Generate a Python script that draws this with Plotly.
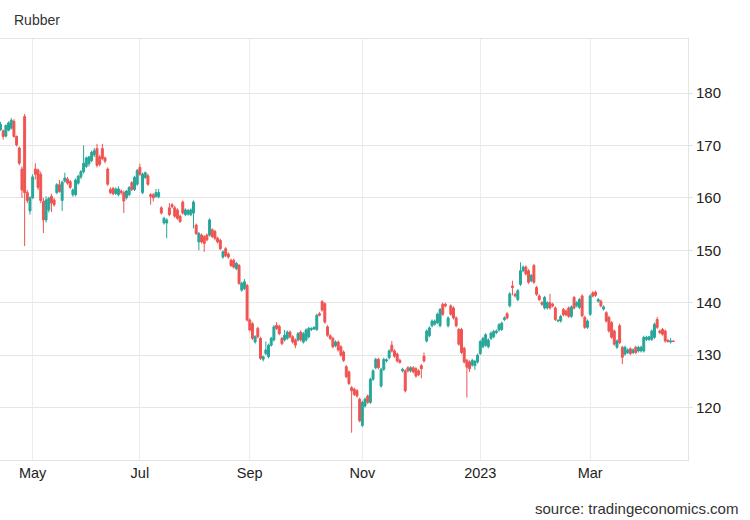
import pandas as pd
import plotly.graph_objects as go

# trading days (weekdays minus the days the series has no print)
closed_days = ["2022-04-15", "2022-05-02", "2022-05-03", "2022-05-16", "2022-06-02",
               "2022-07-11", "2022-08-09", "2022-08-29", "2022-10-24", "2023-01-23",
               "2023-04-07"]
dates = [d.strftime("%Y-%m-%d") for d in pd.bdate_range("2022-04-13", "2023-04-14")
         if d.strftime("%Y-%m-%d") not in closed_days]

month_ticks = ["2022-05-04", "2022-07-01", "2022-09-01", "2022-11-01", "2023-01-02", "2023-03-01"]
month_labels = ["May", "Jul", "Sep", "Nov", "2023", "Mar"]
price_ticks = [120, 130, 140, 150, 160, 170, 180]

open_ = [
    # Apr
    173.0, 172.8, 171.8, 172.9, 173.3, 174.6, 171.7, 169.5, 165.5, 175.5, 161.0, 157.5,
    # May - Jun
    160.0, 165.5, 165.3, 164.5, 159.3, 155.8, 157.7, 160.3, 159.6, 161.0,
    162.5, 159.5, 163.2, 163.6, 163.1, 160.6, 160.6, 162.8, 164.0, 165.0,
    166.0, 166.5, 167.1, 168.2, 169.4, 167.8, 169.4, 167.6, 165.5, 161.6,
    161.8, 160.8, 160.6, 161.3, 161.0, 160.0, 160.6, 162.9, 161.6, 162.6,
    # Jul - Aug
    165.8, 161.0, 163.9, 164.2, 160.6, 160.6, 160.3, 160.2, 158.1, 155.2,
    155.2, 158.1, 158.7, 158.1, 157.7, 156.5, 159.2, 156.8, 156.9, 156.8,
    157.1, 154.8, 151.6, 152.9, 152.6, 152.9, 152.9, 153.9, 153.6, 152.3,
    151.9, 148.7, 150.3, 149.3, 148.1, 148.1, 146.5, 147.1, 142.4, 142.7, 143.3,
    # Sep - Oct
    136.7, 136.0, 132.5, 135.1, 133.2, 129.2, 130.3, 129.7, 131.9, 132.9,
    135.7, 135.5, 133.2, 132.9, 133.2, 134.4, 133.5, 132.9, 132.9, 134.4,
    132.5, 132.9, 133.5, 134.9, 135.0, 134.9, 137.9, 140.2, 139.8, 135.4,
    133.7, 133.2, 131.8, 132.5, 131.6, 130.6, 127.8, 126.8, 123.8, 123.5,
    123.2, 121.6,
    # Nov - Dec
    116.6, 120.3, 122.2, 121.0, 125.4, 127.6, 129.2, 124.1, 127.3, 128.9,
    129.5, 131.9, 130.8, 130.2, 129.0, 127.0, 127.0, 127.6, 127.0, 127.6,
    127.4, 127.0, 128.0, 129.8, 132.7, 133.7, 135.6, 135.9, 136.2, 135.6,
    139.7, 139.7, 135.6, 139.4, 139.0, 137.1, 134.9, 134.9, 131.3, 129.0,
    128.7, 128.1, 128.0, 128.7,
    # Jan - Feb
    130.3, 131.6, 131.9, 131.6, 133.2, 133.5, 134.3, 134.8, 134.9, 136.8,
    137.9, 139.4, 143.2, 141.6, 140.6, 143.5, 146.1, 146.8, 146.1, 144.2,
    147.1, 142.9, 141.3, 140.0, 139.0, 139.0, 140.0, 139.7, 139.0, 136.5,
    136.5, 138.7, 138.4, 139.0, 137.4, 141.0, 139.4, 139.1, 141.3, 137.2,
    135.3,
    # Mar - Apr
    137.8, 141.9, 142.0, 140.3, 140.3, 138.8, 138.1, 137.2, 136.2, 134.6,
    131.5, 135.6, 131.5, 130.2, 130.5, 131.2, 130.5, 131.5, 130.8, 130.8,
    130.8, 133.0, 133.0, 133.0, 133.4, 136.8, 134.6, 134.9, 134.6, 132.8,
    132.5, 132.7,
]

high = [
    174.5, 173.0, 174.0, 174.6, 175.2, 175.0, 171.9, 169.8, 166.0, 176.0, 161.5, 160.3,
    164.5, 166.6, 165.6, 165.0, 160.0, 160.3, 160.2, 160.8, 160.0, 162.8,
    163.4, 163.3, 164.8, 164.0, 163.4, 161.8, 163.7, 164.4, 165.3, 170.0,
    167.9, 168.0, 169.0, 169.5, 170.3, 168.2, 170.3, 167.9, 165.8, 162.0,
    162.1, 162.0, 162.2, 161.6, 161.4, 161.5, 162.2, 163.2, 164.2, 165.5,
    166.5, 164.8, 165.0, 164.6, 160.9, 160.9, 161.7, 161.7, 158.4, 156.4,
    156.1, 159.0, 159.0, 158.5, 158.0, 156.8, 159.5, 158.0, 157.9, 158.0,
    159.5, 155.1, 153.5, 153.2, 152.9, 153.2, 156.1, 154.2, 153.9, 152.6,
    152.2, 150.0, 150.6, 149.6, 148.4, 148.4, 147.8, 147.4, 144.0, 144.5, 143.6,
    137.0, 136.3, 133.8, 135.4, 133.5, 129.9, 132.6, 132.2, 133.5, 135.7,
    136.3, 135.8, 133.5, 134.8, 134.7, 134.7, 133.8, 133.2, 134.4, 134.7,
    134.4, 135.1, 135.4, 135.3, 135.5, 137.9, 138.2, 140.5, 140.1, 135.7,
    134.0, 133.5, 132.8, 132.8, 131.9, 130.9, 128.1, 127.1, 124.1, 123.8,
    123.5, 121.9,
    121.3, 121.9, 122.5, 125.7, 127.3, 129.5, 129.5, 127.6, 129.5, 129.4,
    131.1, 132.7, 131.1, 130.5, 129.3, 127.6, 127.3, 127.9, 127.9, 127.9,
    127.7, 127.3, 128.3, 130.5, 134.9, 135.5, 136.8, 136.8, 138.1, 139.0,
    140.0, 140.0, 137.4, 139.7, 139.3, 137.4, 135.2, 135.2, 131.6, 129.3,
    129.0, 129.3, 129.1, 130.3,
    132.9, 133.5, 134.2, 133.2, 134.5, 134.8, 134.9, 136.1, 136.4, 137.4,
    138.2, 142.0, 144.2, 141.9, 142.6, 147.7, 147.1, 147.1, 146.4, 145.5,
    147.4, 143.2, 141.6, 140.3, 141.3, 140.3, 141.7, 140.0, 139.3, 136.9,
    137.7, 139.0, 138.7, 139.3, 139.5, 141.3, 140.3, 140.9, 141.6, 137.5,
    136.8,
    141.6, 142.2, 142.3, 140.9, 140.6, 139.5, 138.4, 137.5, 136.5, 134.9,
    133.0, 136.0, 131.8, 131.8, 131.3, 131.5, 131.3, 131.8, 131.8, 131.8,
    133.7, 133.7, 133.6, 134.9, 136.2, 137.3, 134.9, 135.2, 134.9, 133.1,
    133.3, 132.8,
]

low = [
    172.8, 171.1, 171.5, 172.7, 173.0, 171.5, 169.8, 166.2, 160.0, 150.8, 159.0, 156.8,
    159.8, 163.5, 161.5, 159.0, 153.3, 155.3, 157.2, 157.3, 158.3, 160.7,
    161.0, 157.5, 162.9, 162.5, 161.7, 160.2, 160.3, 162.5, 163.6, 164.6,
    165.7, 166.0, 166.8, 167.8, 165.8, 166.0, 167.2, 166.6, 162.3, 160.7,
    160.5, 160.6, 160.3, 160.6, 157.1, 159.7, 160.3, 161.3, 161.3, 162.3,
    164.2, 160.7, 163.6, 162.3, 158.7, 159.3, 160.0, 159.9, 156.8, 154.9,
    152.3, 156.5, 158.0, 156.2, 155.8, 155.2, 156.8, 156.5, 156.6, 156.5,
    154.2, 152.9, 150.0, 151.3, 149.7, 151.7, 152.6, 152.3, 151.9, 151.3,
    150.0, 148.4, 148.7, 148.4, 146.8, 146.5, 146.2, 143.4, 142.1, 142.4, 136.4,
    134.5, 132.9, 132.2, 133.2, 129.1, 128.8, 130.0, 129.4, 131.6, 132.6,
    134.8, 133.8, 131.9, 132.6, 132.9, 133.2, 132.2, 131.3, 132.6, 132.6,
    132.2, 132.6, 133.2, 134.6, 134.8, 134.6, 137.4, 138.3, 136.0, 133.5,
    132.9, 131.3, 131.5, 130.7, 129.7, 128.7, 125.6, 124.3, 115.2, 122.2,
    121.9, 117.2,
    116.3, 120.0, 120.7, 120.7, 125.1, 127.3, 127.3, 123.8, 127.0, 128.6,
    129.2, 130.5, 129.5, 128.6, 128.4, 126.7, 122.9, 126.7, 126.7, 126.5,
    125.7, 126.0, 125.6, 128.6, 132.4, 133.4, 135.3, 135.6, 135.9, 135.3,
    137.5, 139.1, 135.3, 137.5, 136.8, 135.3, 131.8, 130.2, 128.4, 121.9,
    126.8, 127.8, 127.2, 128.4,
    130.0, 131.3, 131.6, 131.3, 132.9, 133.2, 134.0, 134.5, 134.6, 136.5,
    136.8, 139.1, 141.4, 141.0, 140.3, 143.2, 145.8, 145.2, 143.6, 143.9,
    143.6, 141.3, 140.3, 139.4, 138.7, 138.7, 138.7, 139.1, 136.5, 136.3,
    136.2, 137.4, 137.4, 137.1, 137.1, 138.7, 139.1, 138.8, 137.2, 135.0,
    135.0,
    137.5, 141.0, 141.1, 140.0, 139.1, 138.5, 136.2, 134.3, 133.1, 131.8,
    131.2, 132.1, 128.3, 129.9, 130.2, 130.0, 130.2, 130.2, 130.5, 130.5,
    130.5, 132.7, 132.7, 132.7, 133.1, 135.0, 134.0, 133.7, 132.4, 132.4,
    132.2, 132.5,
]

close = [
    174.0, 171.7, 173.8, 174.3, 174.8, 171.7, 170.1, 166.6, 161.5, 161.0, 159.5, 160.0,
    164.0, 164.5, 162.0, 159.5, 155.8, 159.6, 159.9, 159.0, 158.7, 162.5,
    161.2, 163.0, 163.8, 162.8, 162.0, 161.5, 163.4, 164.1, 165.0, 166.6,
    167.6, 167.8, 168.7, 169.0, 166.2, 166.4, 167.5, 167.0, 162.6, 161.0,
    160.8, 161.7, 161.7, 161.0, 159.4, 161.3, 162.0, 161.6, 163.9, 165.2,
    164.5, 164.5, 164.8, 162.6, 160.3, 160.0, 161.0, 161.0, 157.1, 156.1,
    155.8, 156.8, 158.3, 156.5, 156.1, 155.5, 157.1, 157.7, 157.6, 157.7,
    159.2, 153.2, 153.2, 151.6, 151.3, 152.0, 155.8, 152.6, 152.3, 151.6,
    150.3, 149.7, 149.0, 148.7, 147.1, 146.8, 147.5, 143.7, 143.7, 144.0, 136.7,
    134.8, 133.2, 133.5, 133.5, 129.4, 129.7, 131.0, 131.9, 133.2, 135.4,
    135.1, 134.1, 132.2, 133.8, 134.4, 133.5, 132.5, 131.9, 134.1, 132.9,
    134.1, 134.8, 135.1, 135.1, 135.3, 137.6, 137.6, 138.6, 136.3, 133.8,
    133.2, 131.6, 132.5, 131.0, 130.0, 129.0, 125.9, 124.6, 123.2, 122.5,
    122.2, 117.5,
    121.0, 121.6, 121.0, 125.4, 127.0, 129.2, 127.6, 127.3, 129.2, 129.1,
    130.8, 130.8, 129.8, 128.9, 128.6, 127.3, 123.2, 127.0, 127.6, 126.8,
    126.0, 126.3, 127.4, 128.9, 134.6, 135.2, 136.5, 136.5, 137.8, 138.7,
    137.8, 139.4, 137.1, 137.8, 137.1, 135.6, 132.1, 130.5, 128.7, 127.7,
    127.4, 129.0, 128.8, 130.0,
    132.6, 133.2, 133.9, 132.9, 134.2, 134.5, 134.6, 135.8, 136.1, 137.1,
    137.1, 141.7, 142.9, 141.3, 142.3, 146.1, 146.8, 145.5, 143.9, 145.2,
    143.9, 141.6, 140.6, 139.7, 141.0, 140.0, 139.0, 139.4, 136.8, 136.6,
    137.4, 137.7, 137.7, 137.4, 139.2, 139.0, 140.0, 140.6, 137.5, 135.3,
    136.5,
    141.3, 141.3, 141.4, 140.6, 139.4, 139.2, 136.5, 134.6, 133.4, 132.1,
    132.7, 132.4, 129.6, 131.5, 131.0, 130.3, 131.0, 130.5, 131.5, 131.5,
    133.4, 133.4, 133.5, 134.6, 135.9, 135.3, 134.3, 134.0, 132.7, 132.6,
    132.7, 132.6,
]

fig = go.Figure(
    go.Candlestick(
        x=dates, open=open_, high=high, low=low, close=close,
        increasing=dict(line=dict(color="#26a69a", width=1), fillcolor="#26a69a"),
        decreasing=dict(line=dict(color="#ef5350", width=1), fillcolor="#ef5350"),
        hoverinfo="x+y",
    )
)

fig.update_layout(
    width=750,
    height=520,
    margin=dict(l=0, r=62, t=39, b=60),
    paper_bgcolor="white",
    plot_bgcolor="white",
    font=dict(family="Arial, 'Liberation Sans', sans-serif", size=14, color="#333333"),
    showlegend=False,
    boxgap=0.1,
    boxgroupgap=0.2,
    title=dict(text="Rubber", xref="container", x=14 / 750, xanchor="left",
               yref="container", y=1 - 20 / 520, yanchor="middle",
               font=dict(size=14, color="#333333")),
    xaxis=dict(
        type="category",
        range=[-0.19, 256.5],
        tickvals=month_ticks,
        ticktext=month_labels,
        showgrid=True,
        gridcolor="#ececec",
        showline=True,
        linecolor="#e3e3e3",
        mirror=True,
        ticks="",
        tickfont=dict(size=14.5, color="#222222"),
        rangeslider=dict(visible=False),
    ),
    yaxis=dict(
        side="right",
        range=[110, 190.3],
        tickvals=price_ticks,
        showgrid=True,
        gridcolor="#e6e6e6",
        showline=True,
        linecolor="#e3e3e3",
        ticks="outside",
        ticklen=4,
        tickcolor="#e3e3e3",
        zeroline=False,
        tickfont=dict(size=15, color="#222222"),
    ),
)

fig.add_annotation(
    text="source: tradingeconomics.com",
    xref="paper", yref="paper",
    x=740 / 688, y=-(508 - 460) / 421,
    xanchor="right", yanchor="middle",
    showarrow=False,
    font=dict(size=15, color="#333333"),
)

# the page's default body margin would push the figure 8px off the window
fig.write_html("out.html", config={"displayModeBar": False},
               post_script="document.body.style.margin = '0px';")
